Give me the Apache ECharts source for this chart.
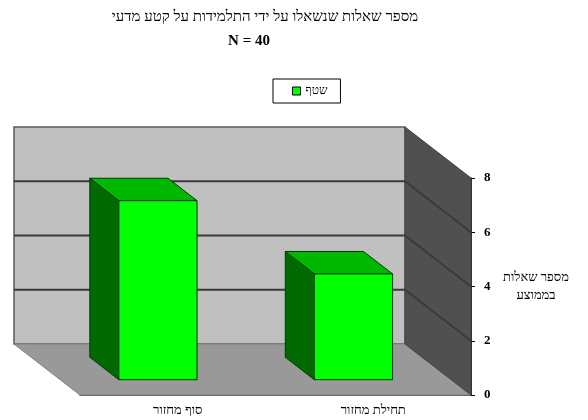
<!DOCTYPE html>
<html><head><meta charset="utf-8">
<script src="https://cdn.jsdelivr.net/npm/echarts@6/dist/echarts.min.js"></script>
<style>html,body{margin:0;padding:0;background:#fff}#c{width:588px;height:420px}</style>
</head><body><div id="c"></div>
<script>
const categories = ['תחילת מחזור', 'סוף מחזור'];
const values = [3.9, 6.6];
const seriesName = 'שטף';
const yMin = 0, yMax = 8, yStep = 2;
const titleLine1 = 'מספר שאלות שנשאלו על ידי התלמידות על קטע מדעי';
const titleLine2 = 'N = 40';
const yAxisName = 'מספר שאלות\nבממוצע';

const DX = -66, DY = -51;      // oblique depth projection
const F1 = 0.3, F2 = 0.74;     // bar depth range
const FONT = "'Liberation Serif', 'Times New Roman', serif";

function wallsRender(params, api) {
  const cs = params.coordSys;
  const x0 = cs.x, x1 = cs.x + cs.width;
  const yb = api.coord([0, yMin])[1];
  const yt = api.coord([0, yMax])[1];
  const children = [];
  children.push({type:'polygon', shape:{points:[[x0+DX,yt+DY],[x1+DX,yt+DY],[x1+DX,yb+DY],[x0+DX,yb+DY]]},
    style:{fill:'#c0c0c0', stroke:'#5a5a5a', lineWidth:1.5}});
  children.push({type:'polygon', shape:{points:[[x0+DX,yb+DY],[x1+DX,yb+DY],[x1,yb],[x0,yb]]},
    style:{fill:'#999999', stroke:'#808080', lineWidth:1}});
  children.push({type:'polygon', shape:{points:[[x1+DX,yt+DY],[x1,yt],[x1,yb],[x1+DX,yb+DY]]},
    style:{fill:'#505050', stroke:'#444', lineWidth:1}});
  for (let v = yMin + yStep; v < yMax; v += yStep) {
    const y = api.coord([0, v])[1];
    children.push({type:'polyline', shape:{points:[[x0+DX,y+DY],[x1+DX,y+DY],[x1,y]]},
      style:{stroke:'#3a3a3a', lineWidth:2, fill:null}});
  }
  return {type:'group', children};
}

function barRender(params, api) {
  const ci = api.value(0), v = api.value(1);
  const top = api.coord([ci, v]);
  const base = api.coord([ci, 0]);
  const bw = Math.abs(api.size([1, 0])[0]) * 0.4;
  const xl = top[0] - bw / 2, xr = top[0] + bw / 2;
  const p = (x, y, f) => [x + DX * f, y + DY * f];
  const yt = top[1], yb = base[1];
  return {type:'group', children:[
    {type:'polygon', shape:{points:[p(xl,yt,F2),p(xl,yt,F1),p(xl,yb,F1),p(xl,yb,F2)]},
      style:{fill:'#006a00', stroke:'#003a00', lineWidth:1}},
    {type:'polygon', shape:{points:[p(xl,yt,F1),p(xr,yt,F1),p(xr,yt,F2),p(xl,yt,F2)]},
      style:{fill:'#00b800', stroke:'#003a00', lineWidth:1}},
    {type:'polygon', shape:{points:[p(xl,yt,F1),p(xr,yt,F1),p(xr,yb,F1),p(xl,yb,F1)]},
      style:{fill:'#00ff00', stroke:'#003a00', lineWidth:1}}
  ]};
}

const chart = echarts.init(document.getElementById('c'), null, {renderer:'canvas'});
chart.setOption({
  animation:false,
  backgroundColor:'#ffffff',
  title:[
    {text:titleLine1, left:260, top:5, textAlign:'center',
      textStyle:{fontFamily:FONT, fontSize:15, fontWeight:'normal', color:'#000'}},
    {text:titleLine2, left:244, top:29, textAlign:'center',
      textStyle:{fontFamily:FONT, fontSize:15, fontWeight:'bold', color:'#000'}}
  ],
  legend:{data:[seriesName], left:273, top:79, itemWidth:8, itemHeight:8, icon:'rect',
    borderColor:'#000', borderWidth:1, padding:[6,13,6,19], itemGap:4,
    itemStyle:{borderColor:'#000', borderWidth:1},
    textStyle:{fontFamily:FONT, fontSize:12, color:'#000'}},
  grid:{left:80, right:117, top:178, bottom:25},
  xAxis:{type:'category', data:categories, inverse:true,
    axisLine:{lineStyle:{color:'#1a1a1a', width:1.5}},
    axisTick:{length:4, lineStyle:{color:'#000'}},
    axisLabel:{fontFamily:FONT, fontSize:13, color:'#000', margin:9},
    splitLine:{show:false}},
  yAxis:{type:'value', position:'right', min:yMin, max:yMax, interval:yStep,
    axisLine:{show:true, lineStyle:{color:'#222', width:1}},
    axisTick:{show:true, length:4, lineStyle:{color:'#000'}},
    axisLabel:{fontFamily:FONT, fontSize:13, fontWeight:'bold', color:'#000', margin:13},
    splitLine:{show:false},
    name:yAxisName, nameLocation:'middle', nameRotate:0, nameGap:65,
    nameTextStyle:{fontFamily:FONT, fontSize:13, color:'#000', align:'center', verticalAlign:'middle', lineHeight:18}},
  series:[
    {type:'custom', silent:true, renderItem:wallsRender, data:[[0, 0]], encode:{x:0, y:1}, z:1},
    {type:'custom', name:seriesName, renderItem:barRender, z:2,
      itemStyle:{color:'#00ff00', borderColor:'#000', borderWidth:1},
      data:values.map((v, i) => [i, v]), encode:{x:0, y:1}}
  ]
});
</script></body></html>
